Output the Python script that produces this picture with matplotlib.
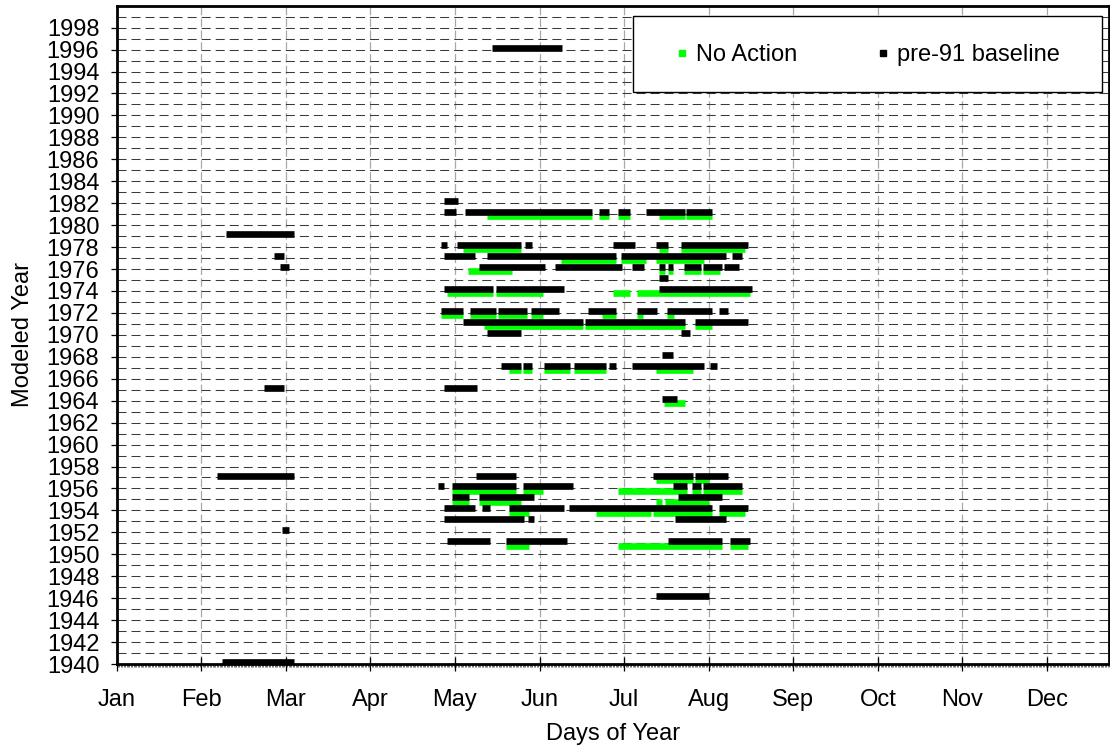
import matplotlib
matplotlib.use("Agg")
import matplotlib.pyplot as plt
from matplotlib.lines import Line2D
from matplotlib.patches import Rectangle
from matplotlib.ticker import MultipleLocator

plt.rcParams['font.family'] = ['Liberation Sans', 'DejaVu Sans']
plt.rcParams['lines.scale_dashes'] = False

# ---- data (day of year, 30-day month ticks) ----
months = ['Jan', 'Feb', 'Mar', 'Apr', 'May', 'Jun', 'Jul', 'Aug', 'Sep', 'Oct', 'Nov', 'Dec']
month_days = [0, 30, 60, 90, 120, 150, 180, 210, 240, 270, 300, 330]
year_ticks = list(range(1940, 2000, 2))

# pre-91 baseline segments: year, start day, end day
base_year = [1996,
             1982,
             1981, 1981, 1981, 1981, 1981, 1981,
             1979,
             1978, 1978, 1978, 1978, 1978, 1978,
             1977, 1977, 1977, 1977, 1977,
             1976, 1976, 1976, 1976, 1976, 1976, 1976, 1976, 1976,
             1975,
             1974, 1974, 1974,
             1972, 1972, 1972, 1972, 1972, 1972, 1972, 1972,
             1971, 1971, 1971,
             1970, 1970,
             1968,
             1967, 1967, 1967, 1967, 1967, 1967, 1967,
             1965, 1965,
             1964,
             1957, 1957, 1957, 1957,
             1956, 1956, 1956, 1956, 1956, 1956,
             1955, 1955, 1955,
             1954, 1954, 1954, 1954, 1954,
             1953, 1953, 1953,
             1952,
             1951, 1951, 1951, 1951,
             1946,
             1940]
base_start = [133.3,
              116.2,
              116.1, 123.5, 171.1, 177.8, 187.6, 201.9,
              38.7,
              114.9, 120.8, 145.0, 176.0, 191.3, 200.1,
              55.9, 116.1, 131.3, 178.8, 218.4,
              57.8, 128.5, 155.5, 182.7, 192.4, 195.4, 201.1, 207.9, 215.6,
              192.4,
              116.1, 134.4, 192.4,
              114.9, 125.5, 135.2, 146.9, 167.2, 184.6, 195.3, 213.7,
              122.7, 166.3, 205.0,
              131.3, 200.1,
              193.3,
              136.3, 144.0, 151.6, 162.3, 174.8, 182.7, 210.6,
              52.1, 116.1,
              193.3,
              35.6, 127.5, 190.4, 205.0,
              114.0, 118.8, 144.0, 197.2, 204.0, 207.9,
              118.8, 128.5, 199.2,
              116.1, 129.5, 139.2, 160.4, 213.7,
              116.1, 146.0, 198.2,
              58.7,
              117.0, 138.2, 195.4, 217.5,
              191.2,
              37.5]
base_end = [157.9,
            121.1,
            120.2, 168.7, 174.5, 182.1, 201.5, 211.2,
            63.0,
            117.2, 143.4, 147.3, 184.0, 195.6, 223.8,
            59.2, 127.1, 177.3, 216.0, 221.7,
            61.1, 152.0, 179.2, 187.0, 194.5, 197.5, 207.1, 214.9, 220.7,
            195.6,
            133.6, 158.7, 225.5,
            123.0, 134.6, 145.4, 156.8, 177.3, 191.7, 211.1, 216.9,
            165.5, 201.5, 223.8,
            143.4, 203.3,
            197.5,
            143.4, 147.3, 160.9, 173.5, 177.3, 208.3, 213.0,
            59.2, 127.9,
            198.6,
            63.0, 141.5, 204.3, 216.8,
            116.2, 141.5, 161.7, 202.2, 207.2, 221.7,
            125.0, 148.2, 214.9,
            127.1, 132.6, 158.7, 211.1, 223.8,
            144.4, 148.2, 216.0,
            61.1,
            132.6, 159.8, 214.9, 224.6,
            210.1,
            63.0]

# No Action segments: year, start day, end day
noact_year = [1981, 1981, 1981, 1981, 1981,
              1978, 1978, 1978,
              1977, 1977, 1977,
              1976, 1976, 1976, 1976, 1976,
              1974, 1974, 1974, 1974,
              1972, 1972, 1972, 1972, 1972, 1972, 1972,
              1971, 1971, 1971,
              1967, 1967, 1967, 1967, 1967,
              1964,
              1957, 1957,
              1956, 1956, 1956, 1956, 1956,
              1955, 1955, 1955, 1955,
              1954, 1954, 1954, 1954,
              1951, 1951, 1951]
noact_start = [131.4, 171.1, 177.8, 192.4, 201.9,
               122.7, 192.4, 200.1,
               157.6, 178.8, 191.2,
               124.7, 192.4, 195.4, 201.1, 207.9,
               117.0, 134.4, 176.1, 184.6,
               114.9, 125.5, 135.2, 146.9, 172.1, 184.6, 195.3,
               130.4, 166.3, 205.0,
               139.2, 144.0, 151.6, 162.3, 191.2,
               194.2,
               191.4, 205.0,
               118.8, 144.0, 177.8, 204.0, 207.9,
               118.8, 128.5, 191.2, 194.4,
               139.2, 170.0, 190.3, 213.7,
               138.2, 177.8, 217.5]
noact_end = [168.7, 174.5, 182.1, 201.5, 211.2,
             143.4, 195.6, 222.8,
             177.3, 187.9, 208.3,
             140.4, 194.5, 197.5, 207.1, 214.0,
             133.6, 151.1, 182.0, 224.6,
             123.0, 134.6, 145.4, 151.1, 177.3, 186.7, 197.6,
             165.5, 201.5, 211.1,
             143.4, 147.3, 160.9, 173.5, 204.3,
             201.5,
             204.3, 210.2,
             141.5, 151.1, 202.2, 207.2, 221.7,
             125.0, 143.4, 193.6, 210.2,
             146.1, 189.7, 211.1, 222.8,
             146.1, 214.9, 223.8]

# ---- figure ----
fig = plt.figure(figsize=(11.1, 7.46), dpi=100)
ax = fig.add_axes([0.1051, 0.1099, 0.8940, 0.8825])

GREEN = '#00ff00'
BAR_LW = 4.8
ax.hlines([y - 0.2 for y in noact_year], noact_start, noact_end,
          colors=GREEN, linewidth=BAR_LW, zorder=3, capstyle='butt')
ax.hlines([y + 0.18 for y in base_year], base_start, base_end,
          colors='black', linewidth=BAR_LW, zorder=4, capstyle='butt')

ax.set_xlim(0, 352)
ax.set_ylim(1940, 2000)

ax.set_xticks(month_days)
ax.set_xticklabels(months)
ax.xaxis.set_minor_locator(MultipleLocator(0.5))
ax.set_yticks(year_ticks)
ax.set_yticklabels([str(y) for y in year_ticks])
ax.yaxis.set_minor_locator(MultipleLocator(1))

ax.tick_params(axis='x', which='major', direction='inout', length=9.6, width=0.9,
               labelsize=17, pad=13.5)
ax.tick_params(axis='x', which='minor', direction='out', length=2.4, width=0.4)
ax.tick_params(axis='y', which='major', direction='out', length=4.5, width=0.9,
               labelsize=17, pad=8)
ax.tick_params(axis='y', which='minor', length=0)

ax.set_axisbelow(True)
ax.yaxis.grid(True, which='both', color='#3a3a3a', linewidth=0.75,
              linestyle=(0, (6.5, 3.6)))
ax.xaxis.grid(True, which='major', color='#a8a8a8', linewidth=0.9,
              linestyle=(0, (6, 2.5)))

for s in ax.spines.values():
    s.set_linewidth(2.0)
    s.set_zorder(6)

ax.set_xlabel('Days of Year', fontsize=17, labelpad=8)
ax.set_ylabel('Modeled Year', fontsize=17, labelpad=9)

# legend frame (drawn as a box in axes coordinates) + frameless legend
ax.add_patch(Rectangle((0.520, 0.8694), 0.4726, 0.1149, transform=ax.transAxes,
                       facecolor='white', edgecolor='black', linewidth=1.0,
                       zorder=6.5, clip_on=False))
handles = [Line2D([], [], linestyle='none', marker='s', markersize=4.3,
                  markerfacecolor=GREEN, markeredgecolor=GREEN),
           Line2D([], [], linestyle='none', marker='s', markersize=4.3,
                  markerfacecolor='black', markeredgecolor='black')]
leg = ax.legend(handles, ['No Action', 'pre-91 baseline'], ncol=2,
                loc='upper left', bbox_to_anchor=(0.520, 0.9843),
                fontsize=17, frameon=False, borderpad=1.2,
                handlelength=1.78, handletextpad=-0.3, columnspacing=2.75,
                numpoints=1, borderaxespad=0)
leg.set_zorder(7)

fig.savefig('out.png', dpi=100)
